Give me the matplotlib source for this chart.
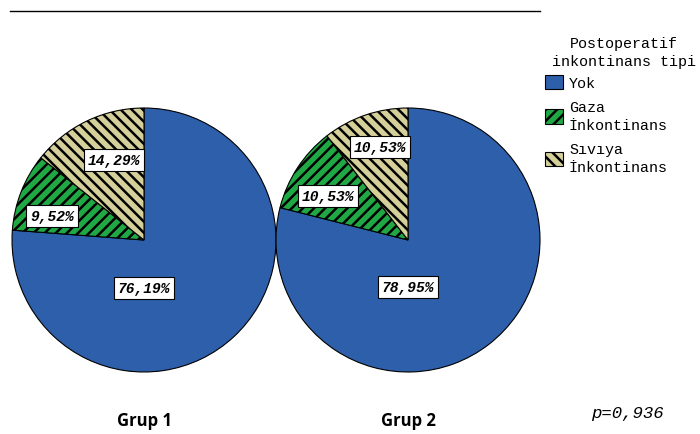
import matplotlib
matplotlib.use('Agg')
import matplotlib.pyplot as plt

categories = ['Yok', 'Gaza\nİnkontinans', 'Sıvıya\nİnkontinans']
legend_title = 'Postoperatif\ninkontinans tipi'
groups = ['Grup 1', 'Grup 2']
grup1 = [76.19, 9.52, 14.29]
grup2 = [78.95, 10.53, 10.53]
grup1_labels = ['76,19%', '9,52%', '14,29%']
grup2_labels = ['78,95%', '10,53%', '10,53%']
p_text = 'p=0,936'

colors = ['#2E5FAB', '#20A845', '#D5D09A']
hatches = ['', '///', '\\\\\\']

plt.rcParams['hatch.linewidth'] = 1.8

fig = plt.figure(figsize=(7, 4.35), dpi=100)
ax = fig.add_axes([0, 0, 1, 1])

centers = [(144, 194), (408, 194)]
radius = 132
# label anchors (data coords, y up)
label_pos = [[(144, 146), (52, 218), (114, 274)],
             [(408, 147), (328, 238), (380, 287)]]

wedges_all = []
for vals, labs, c, pos, name in zip([grup1, grup2], [grup1_labels, grup2_labels],
                                    centers, label_pos, groups):
    wedges, _ = ax.pie(vals, center=c, radius=radius, startangle=90,
                       counterclock=False, colors=colors, hatch=hatches,
                       wedgeprops=dict(edgecolor='black', linewidth=0.8))
    wedges_all.append(wedges)
    for (x, y), s in zip(pos, labs):
        ax.text(x, y, s, ha='center', va='center', family='Liberation Mono',
                weight='bold', style='italic', size=10.5,
                bbox=dict(boxstyle='square,pad=0.25', fc='white', ec='black', lw=0.8))
    ax.text(c[0], 14, name, ha='center', va='center', family='Open Sans',
            weight='bold', size=12)

ax.set_xlim(0, 700)
ax.set_ylim(0, 435)
ax.axis('off')

ax.plot([10, 540], [423, 423], color='black', lw=1)

ax.text(624, 382, legend_title, ha='center', va='center', family='Liberation Mono',
        size=10.8, multialignment='center', linespacing=1.4)
leg = ax.legend(wedges_all[0], categories, loc='upper left',
                bbox_to_anchor=(545 / 700, (435 - 76) / 435), frameon=False,
                prop={'family': 'Liberation Mono', 'size': 10.8},
                handlelength=1.2, handleheight=1.07, handletextpad=0.4,
                labelspacing=0.65, borderpad=0, borderaxespad=0)
for t in leg.get_texts():
    t.set_linespacing(1.4)

ax.text(627, 21, p_text, ha='center', va='center', family='Liberation Mono',
        style='italic', size=12.5)

fig.savefig('out.png', dpi=100)
